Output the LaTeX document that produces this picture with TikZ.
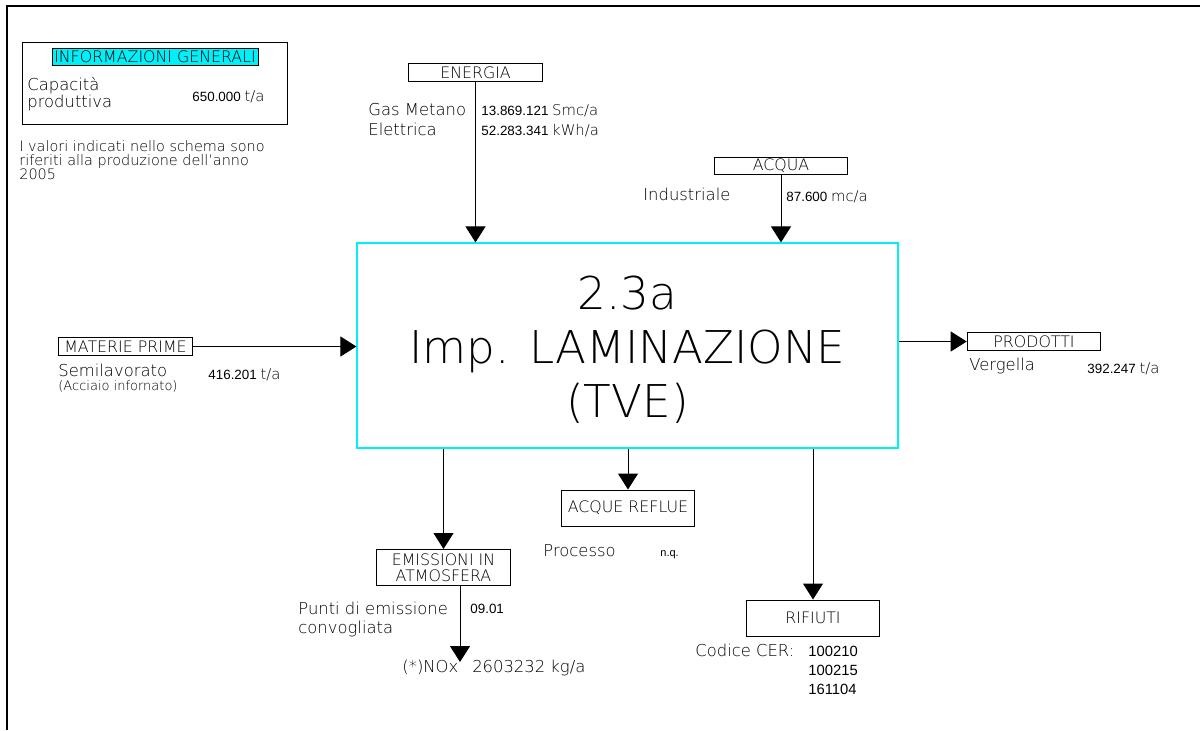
\documentclass[tikz,border=0pt]{standalone}
\usepackage{fontspec}
\setmainfont{DejaVu Sans ExtraLight}
\newfontfamily\numfont{Liberation Sans}
\usetikzlibrary{arrows.meta}
\definecolor{cadcyan}{RGB}{0,240,250}

\newcommand{\unitf}{\fontspec{DejaVu Sans ExtraLight}\fontsize{7.4}{9}\selectfont}

\tikzset{
  lbl/.style={anchor=base west, inner sep=0pt, font=\fontsize{8.2}{9}\selectfont},
  lblsmall/.style={anchor=base west, inner sep=0pt, font=\fontsize{6.5}{7}\selectfont},
  num/.style={anchor=base west, inner sep=0pt, font=\numfont\fontsize{6.7}{8}\selectfont},
  tag/.style={draw, line width=0.5pt, inner sep=0pt, minimum width=66.8pt, minimum height=8.6pt,
              font=\fontsize{7.9}{9}\selectfont},
  tagtall/.style={tag, minimum height=18pt, align=center, font=\fontsize{7.9}{8.2}\selectfont},
  flow/.style={line width=0.5pt, -{Triangle[width=10pt,length=8pt]}},
  big/.style={anchor=base, inner sep=0pt, font=\fontsize{22.6}{26}\selectfont}
}

\begin{document}
\begin{tikzpicture}[x=0.5pt,y=-0.5pt]
\useasboundingbox (0,0) rectangle (1200,730);

% sheet frame
\draw[line width=1.2pt] (7,730) -- (7,6) -- (1200,6);

% general information panel
\node[draw, line width=0.5pt, minimum width=132.5pt, minimum height=41pt, inner sep=0pt] (info) at (154.5,83) {};
\node[draw, fill=cadcyan, line width=0.5pt, minimum width=103pt, minimum height=8.5pt, inner sep=0pt,
      font=\fontsize{7.9}{9}\selectfont] (infotitle) at (155,56.5) {INFORMAZIONI GENERALI};
\node[lbl] (cap1) at (27,90) {Capacità};
\node[lbl] (cap2) at (27,107) {produttiva};
\node[num] (capval) at (192,101) {650.000 \unitf t/a};
\node[lbl, font=\fontsize{7.2}{8}\selectfont] (note1) at (19,151) {I valori indicati nello schema sono};
\node[lbl, font=\fontsize{7.2}{8}\selectfont] (note2) at (19,165) {riferiti alla produzione dell’anno};
\node[lbl, font=\fontsize{7.2}{8}\selectfont] (note3) at (19,179) {2005};

% central process block
\node[draw=cadcyan, line width=0.6pt, minimum width=270.5pt, minimum height=102.5pt, inner sep=0pt] (main) at (627.5,345.5) {};
\node[big] (t1) at (627.5,309) {2.3a};
\node[big] (t2) at (627.5,363) {Imp. LAMINAZIONE};
\node[big] (t3) at (627.5,417) {(TVE)};

% energy input
\node[tag] (energia) at (475.5,72.5) {ENERGIA};
\draw[flow] (energia.south) -- (energia.south |- main.north);
\node[lbl] (gas) at (368,115) {Gas Metano};
\node[lbl] (ele) at (368,135) {Elettrica};
\node[num] (gasv) at (481,115) {13.869.121 \unitf Smc/a};
\node[num] (elev) at (481,135) {52.283.341 \unitf kWh/a};

% water input
\node[tag] (acqua) at (781,166) {ACQUA};
\draw[flow] (acqua.south) -- (acqua.south |- main.north);
\node[lbl] (ind) at (643,200) {Industriale};
\node[num] (indv) at (786,201) {87.600 \unitf mc/a};

% raw materials
\node[tag] (materie) at (125.5,346.5) {MATERIE PRIME};
\draw[flow] (materie.east) -- (materie.east -| main.west);
\node[lbl] (semi) at (58,376) {Semilavorato};
\node[lblsmall] (semi2) at (58,390) {(Acciaio infornato)};
\node[num] (semiv) at (208,379) {416.201 \unitf t/a};

% products
\node[tag] (prodotti) at (1034,341.5) {PRODOTTI};
\draw[flow] (main.east |- prodotti.west) -- (prodotti.west);
\node[lbl] (verg) at (969,370) {Vergella};
\node[num] (vergv) at (1087,373) {392.247 \unitf t/a};

% air emissions
\node[tagtall] (emiss) at (443.5,567.5) {EMISSIONI IN\\ATMOSFERA};
\draw[flow] (emiss.north |- main.south) -- (emiss.north);
\coordinate (nox) at (460,662);
\draw[flow] (emiss.south -| nox) -- (nox);
\node[lbl] (punti1) at (298,614) {Punti di emissione};
\node[lbl] (punti2) at (298,633) {convogliata};
\node[num] (puntiv) at (470,613) {09.01};
\node[lbl] (noxl) at (402,672) {(*)NOx\hspace{7pt}2603232 kg/a};

% waste water
\node[tagtall] (reflue) at (628,508) {ACQUE REFLUE};
\draw[flow] (reflue.north |- main.south) -- (reflue.north);
\node[lbl] (proc) at (543,556) {Processo};
\node[num, font=\numfont\fontsize{5.5}{7}\selectfont] (procv) at (660,556) {n.q.};

% waste
\node[tagtall] (rifiuti) at (813,618) {RIFIUTI};
\draw[flow] (rifiuti.north |- main.south) -- (rifiuti.north);
\node[lbl] (cer) at (695,656) {Codice CER:};
\node[num, font=\numfont\fontsize{7.4}{9}\selectfont] (cer1) at (808,656) {100210};
\node[num, font=\numfont\fontsize{7.4}{9}\selectfont] (cer2) at (808,675) {100215};
\node[num, font=\numfont\fontsize{7.4}{9}\selectfont] (cer3) at (808,694) {161104};

\end{tikzpicture}
\end{document}
